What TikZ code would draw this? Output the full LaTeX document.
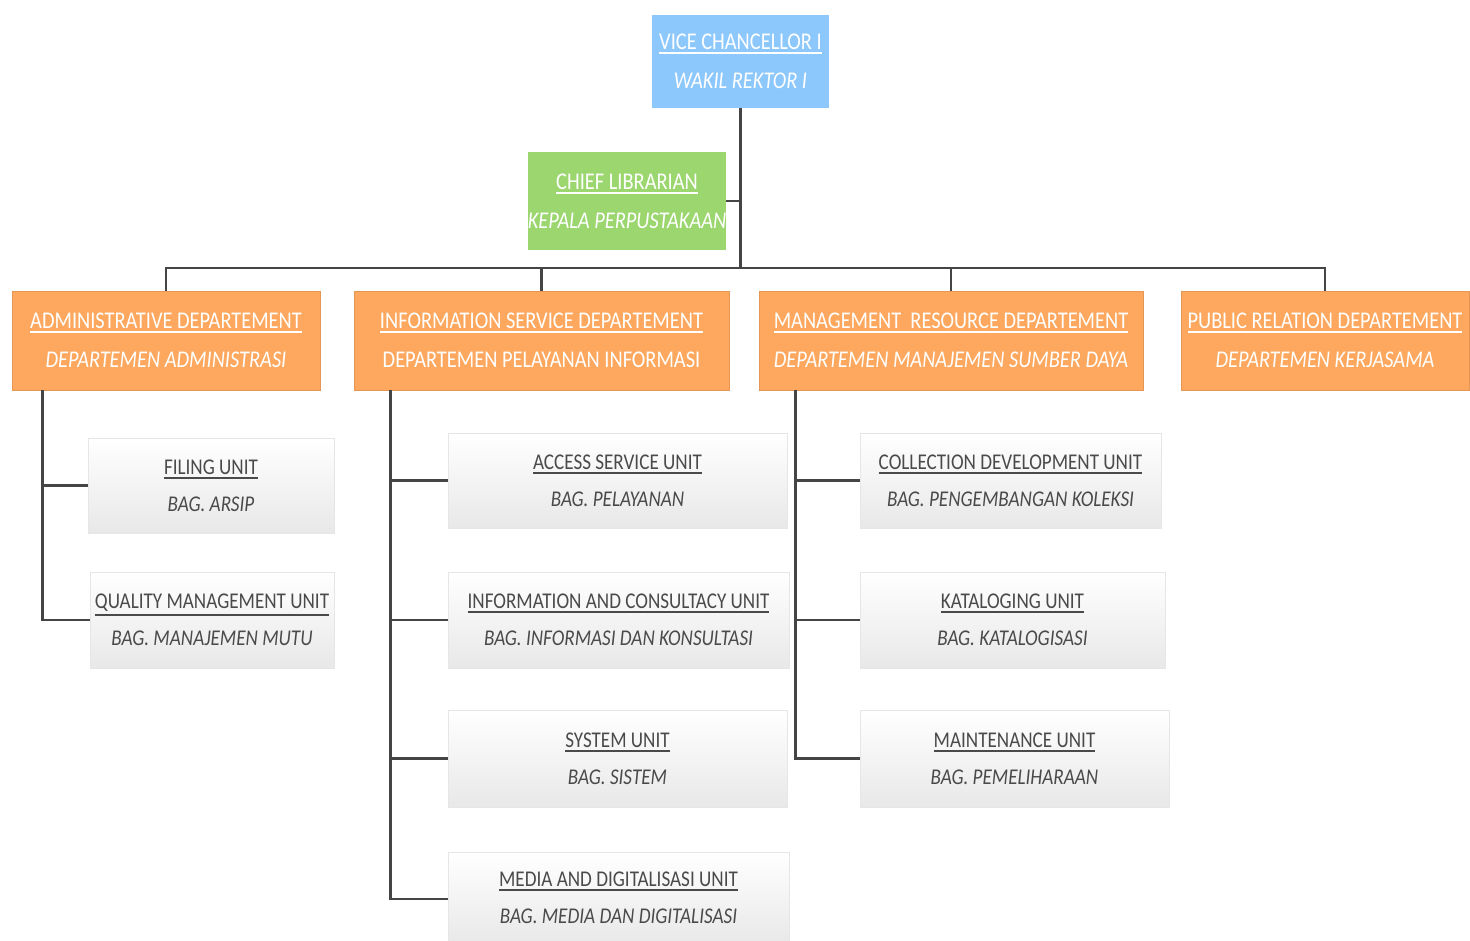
\documentclass[tikz,border=0pt]{standalone}
\usepackage{fontspec}
\setmainfont{Carlito}
\newfontfamily\cond[FakeStretch=0.85]{Carlito}
\usetikzlibrary{positioning}
\definecolor{vcblue}{HTML}{8DC8FD}
\definecolor{libgreen}{HTML}{9BD66F}
\definecolor{deptorange}{HTML}{FDA85E}
\definecolor{linegray}{HTML}{454545}
\definecolor{unittext}{HTML}{4A4A4A}
\definecolor{unitborder}{HTML}{E6E6E6}
\newcommand\myul[1]{\leavevmode\vtop{\hbox{#1}\kern2.5pt\hrule height 1.8pt}}
\tikzset{
  topbox/.style={draw=none, text=white, align=center, inner sep=0pt,
    font=\cond\fontsize{24}{39}\selectfont},
  deptbox/.style={fill=deptorange, draw=deptorange!90!black, line width=0.6pt, text=white,
    align=center, inner sep=0pt, font=\cond\fontsize{24}{39}\selectfont},
  unitbox/.style={top color=white, bottom color=black!9, draw=unitborder, line width=0.6pt,
    text=unittext, align=center, inner sep=0pt, font=\cond\fontsize{22.5}{37}\selectfont},
  conn/.style={draw=linegray, line width=2.5pt},
}
\begin{document}
\begin{tikzpicture}[x=1pt,y=-1pt]
\useasboundingbox (0,0) rectangle (1470,940);
% top
\node[topbox, fill=vcblue, minimum width=177, minimum height=93] (vc) at (740.5,61.5)
  {\myul{VICE CHANCELLOR I}\\\textit{WAKIL REKTOR I}};
\node[topbox, fill=libgreen, minimum width=194, minimum height=98] (chief) at (627,201)
  {\myul{CHIEF LIBRARIAN}\\\textit{KEPALA PERPUSTAKAAN}};
% departments
\node[deptbox, minimum width=308, minimum height=99] (adm) at (166,340.5)
  {\myul{ADMINISTRATIVE DEPARTEMENT}\\\textit{DEPARTEMEN ADMINISTRASI}};
\node[deptbox, minimum width=375, minimum height=99] (info) at (541.5,340.5)
  {\myul{INFORMATION SERVICE DEPARTEMENT}\\DEPARTEMEN PELAYANAN INFORMASI};
\node[deptbox, minimum width=384, minimum height=99] (mgmt) at (951,340.5)
  {\myul{MANAGEMENT\ \ RESOURCE DEPARTEMENT}\\\textit{DEPARTEMEN MANAJEMEN SUMBER DAYA}};
\node[deptbox, minimum width=288, minimum height=99] (pr) at (1325,340.5)
  {\myul{PUBLIC RELATION DEPARTEMENT}\\\textit{DEPARTEMEN KERJASAMA}};
% admin units
\node[unitbox, minimum width=246, minimum height=95] (filing) at (211,485.5)
  {\myul{FILING UNIT}\\\textit{BAG. ARSIP}};
\node[unitbox, minimum width=244, minimum height=96] (qual) at (212,620)
  {\myul{QUALITY MANAGEMENT UNIT}\\\textit{BAG. MANAJEMEN MUTU}};
% info units
\node[unitbox, minimum width=339, minimum height=95] (access) at (617.5,480.5)
  {\myul{ACCESS SERVICE UNIT}\\\textit{BAG. PELAYANAN}};
\node[unitbox, minimum width=341, minimum height=96] (consult) at (618.5,620)
  {\myul{INFORMATION AND CONSULTACY UNIT}\\\textit{BAG. INFORMASI DAN KONSULTASI}};
\node[unitbox, minimum width=339, minimum height=97] (system) at (617.5,758.5)
  {\myul{SYSTEM\ UNIT}\\\textit{BAG. SISTEM}};
\node[unitbox, minimum width=341, minimum height=92] (media) at (618.5,898)
  {\myul{MEDIA AND DIGITALISASI UNIT}\\\textit{BAG. MEDIA DAN DIGITALISASI}};
% mgmt units
\node[unitbox, minimum width=301, minimum height=95] (coll) at (1010.5,480.5)
  {\myul{COLLECTION DEVELOPMENT UNIT}\\\textit{BAG. PENGEMBANGAN KOLEKSI}};
\node[unitbox, minimum width=305, minimum height=96] (katal) at (1012.5,620)
  {\myul{KATALOGING UNIT}\\\textit{BAG. KATALOGISASI}};
\node[unitbox, minimum width=309, minimum height=97] (maint) at (1014.5,758.5)
  {\myul{MAINTENANCE UNIT}\\\textit{BAG. PEMELIHARAAN}};
% connectors
\coordinate (bus) at (740.5,268);
\draw[conn] (vc.south) -- (bus);
\draw[conn] (chief.east) -- (chief.east -| vc.south);
\draw[conn] (adm.north) |- (bus) -| (pr.north);
\draw[conn] (info.north) -- (info.north |- bus);
\draw[conn] (mgmt.north) -- (mgmt.north |- bus);
\coordinate (ta) at ([xshift=31]adm.south west);
\coordinate (ti) at ([xshift=37]info.south west);
\coordinate (tm) at ([xshift=37]mgmt.south west);
\draw[conn] (ta) |- (qual.west);
\draw[conn] (filing.west) -- (filing.west -| ta);
\draw[conn] (ti) |- ([yshift=-1]media.west);
\draw[conn] (access.west) -- (access.west -| ti);
\draw[conn] (consult.west) -- (consult.west -| ti);
\draw[conn] (system.west) -- (system.west -| ti);
\draw[conn] (tm) |- (maint.west);
\draw[conn] (coll.west) -- (coll.west -| tm);
\draw[conn] (katal.west) -- (katal.west -| tm);
\end{tikzpicture}
\end{document}
